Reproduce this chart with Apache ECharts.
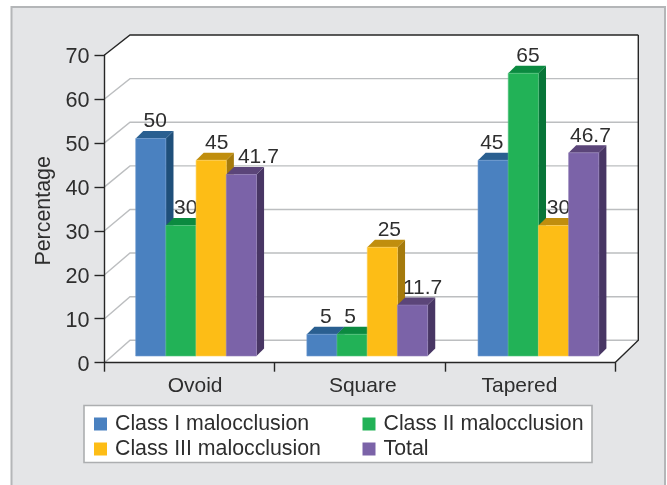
<!DOCTYPE html>
<html>
<head>
<meta charset="utf-8">
<style>html,body{margin:0;padding:0;background:#fff}#chart{width:667px;height:485px}</style>
<script src="https://cdn.jsdelivr.net/npm/echarts@6/dist/echarts.min.js"></script>
</head>
<body>
<div id="chart"></div>
<script>
// Arch form by malocclusion class
const categories = ['Ovoid', 'Square', 'Tapered'];
const classI = [50, 5, 45];
const classII = [30, 5, 65];
const classIII = [45, 25, 30];
const total = [41.7, 11.7, 46.7];
const yTicks = [0, 10, 20, 30, 40, 50, 60, 70];

// Hand placement of the value labels, px from each bar's centre
const labelShift = {
  classI: [4.5, 4, -1.3],
  classII: [4.8, -2, 4.7],
  classIII: [5.5, 7, 5],
  total: [17, 10, 6.7]
};

// Category labels sit a little off their band centres
const categoryPadding = [[0, 0, 0, 11], [0, 0, 0, 6], [0, 21, 0, 0]];

const FONT = '"Liberation Sans", Arial, sans-serif';
const INK = '#2e2e2e';
const BAR_FRACTION = 0.1764;   // bar width as a share of the category band
const BAR_DEPTH = 7.6;         // extruded depth of a bar, px

const chart = echarts.init(document.getElementById('chart'), null, { renderer: 'canvas' });

// Grid 0 is the front plane, grid 1 the back wall, grid 2 the plane the bars stand on.
const frontY = v => chart.convertToPixel({ yAxisIndex: 0 }, v);
const frontX = t => chart.convertToPixel({ xAxisIndex: 3 }, t);

function backdrop(params, api) {
  const tl = api.coord([0, 70]), br = api.coord([1, 0]);
  return {
    type: 'polygon',
    silent: true,
    shape: { points: [
      [frontX(0), frontY(70)], tl, [br[0], tl[1]], br,
      [frontX(1), frontY(0)], [frontX(0), frontY(0)]
    ] },
    style: { fill: '#ffffff' }
  };
}

function wallLine(params, api) {
  const v = api.value(0);
  const left = api.coord([0, v]), right = api.coord([1, v]);
  const edge = v === 70;
  const style = { stroke: edge ? '#262626' : '#bcbec0', lineWidth: 1.4, fill: null };
  const children = [
    { type: 'polyline', shape: { points: [[frontX(0), frontY(v)], left, right] }, style }
  ];
  if (v === 0) {
    const frameStyle = { stroke: '#262626', lineWidth: 1.4, fill: null };
    const top = api.coord([1, 70]);
    children.push({ type: 'polyline', z2: 2,
      shape: { points: [top, right, [frontX(1), frontY(0)]] }, style: frameStyle });
  }
  return { type: 'group', silent: true, children };
}

function bar3d(index, shifts, colors) {
  return function (params, api) {
    const cat = api.value(0), v = api.value(1);
    const band = api.size([1, 0])[0];
    const w = band * BAR_FRACTION;
    const c = api.coord([cat, v]), base = api.coord([cat, 0]);
    const x0 = c[0] + (index - 2) * w, x1 = x0 + w;
    const yT = c[1], yB = base[1], d = BAR_DEPTH;
    return {
      type: 'group',
      silent: true,
      children: [
        { type: 'polygon', shape: { points: [[x1, yT], [x1 + d, yT - d], [x1 + d, yB - d], [x1, yB]] },
          style: { fill: colors.side } },
        { type: 'polygon', shape: { points: [[x0, yT], [x0 + d, yT - d], [x1 + d, yT - d], [x1, yT]] },
          style: { fill: colors.top } },
        { type: 'rect', shape: { x: x0, y: yT, width: w, height: yB - yT },
          style: { fill: colors.front, stroke: colors.edge, lineWidth: 0.6 } },
        { type: 'text', z2: 50,
          style: { text: String(v), x: (x0 + x1) / 2 + shifts[cat], y: yT - 17,
            align: 'center', verticalAlign: 'middle', fill: INK, fontSize: 21, fontFamily: FONT } }
      ]
    };
  };
}

function barSeries(name, values, index, shifts, colors) {
  return {
    name, type: 'custom', xAxisIndex: 2, yAxisIndex: 2, z: 4 + index,
    itemStyle: { color: colors.front },
    encode: { x: 0, y: 1 },
    data: values.map((v, i) => [i, v]),
    renderItem: bar3d(index, shifts, colors)
  };
}

const legendBase = {
  orient: 'vertical', padding: 0, itemGap: 0, itemWidth: 13, itemHeight: 13,
  icon: 'rect', selectedMode: false,
  textStyle: { fontFamily: FONT, fontSize: 21.3, color: INK, lineHeight: 25, padding: [0, 0, 0, 3] }
};

chart.setOption({
  animation: false,
  tooltip: { show: false },
  graphic: { elements: [
    { type: 'rect', z: -10, silent: true, shape: { x: 11.5, y: 7, width: 653.5, height: 490 },
      style: { fill: '#e4e5e7', stroke: '#b4b6b8', lineWidth: 2 } },
    { type: 'rect', z: -5, silent: true, shape: { x: 84, y: 405.5, width: 508, height: 57 },
      style: { fill: '#ffffff', stroke: '#acaeb0', lineWidth: 1.6 } }
  ] },
  legend: [
    Object.assign({}, legendBase, { left: 94, top: 411.5, data: ['Class I malocclusion', 'Class III malocclusion'] }),
    Object.assign({}, legendBase, { left: 362.5, top: 411.5, data: ['Class II malocclusion', 'Total'] })
  ],
  grid: [
    { left: 104.5, top: 55, width: 510.5, height: 307.7 },
    { left: 130, top: 35, width: 508.3, height: 305.3 },
    { left: 110.5, top: 51.5, width: 513.5, height: 304.5 }
  ],
  xAxis: [
    { type: 'category', gridIndex: 0, z: 3,
      data: categories.map((value, i) => ({ value, textStyle: { padding: categoryPadding[i] } })),
      axisLine: { lineStyle: { color: '#262626', width: 1.4 } },
      axisTick: { show: true, alignWithLabel: false, length: 9, lineStyle: { color: '#262626', width: 1.4 } },
      axisLabel: { fontFamily: FONT, fontSize: 21, color: INK, margin: 13 } },
    { type: 'value', gridIndex: 1, min: 0, max: 1, show: false },
    { type: 'category', gridIndex: 2, data: categories, show: false },
    { type: 'value', gridIndex: 0, min: 0, max: 1, show: false }
  ],
  yAxis: [
    { type: 'value', gridIndex: 0, min: 0, max: 70, interval: 10, z: 3,
      name: 'Percentage', nameLocation: 'middle', nameGap: 48, nameRotate: 90,
      nameTextStyle: { fontFamily: FONT, fontSize: 21.4, color: INK, padding: [0, 4, 0, 0] },
      axisLine: { show: true, lineStyle: { color: '#262626', width: 1.4 } },
      axisTick: { show: true, length: 10, lineStyle: { color: '#262626', width: 1.4 } },
      axisLabel: { fontFamily: FONT, fontSize: 21.6, color: INK, margin: 15, verticalAlign: 'top', lineHeight: 5 },
      splitLine: { show: false } },
    { type: 'value', gridIndex: 1, min: 0, max: 70, show: false, splitLine: { show: false } },
    { type: 'value', gridIndex: 2, min: 0, max: 70, show: false, splitLine: { show: false } }
  ],
  series: [
    { type: 'custom', xAxisIndex: 1, yAxisIndex: 1, z: 1, data: [0], renderItem: backdrop, silent: true },
    { type: 'custom', xAxisIndex: 1, yAxisIndex: 1, z: 2, data: yTicks.map(v => [v]),
      encode: { y: 0 }, renderItem: wallLine, silent: true },
    barSeries('Class I malocclusion', classI, 0, labelShift.classI,
      { front: '#4a81c0', top: '#2a5f90', side: '#1f4f7a', edge: '#6f9bd0' }),
    barSeries('Class II malocclusion', classII, 1, labelShift.classII,
      { front: '#22b257', top: '#0b8a40', side: '#087538', edge: '#55c47f' }),
    barSeries('Class III malocclusion', classIII, 2, labelShift.classIII,
      { front: '#fdbd16', top: '#c08e0e', side: '#a57a0c', edge: '#fdd05a' }),
    barSeries('Total', total, 3, labelShift.total,
      { front: '#7b63a8', top: '#5b4579', side: '#483664', edge: '#9683bb' })
  ]
});
</script>
</body>
</html>
